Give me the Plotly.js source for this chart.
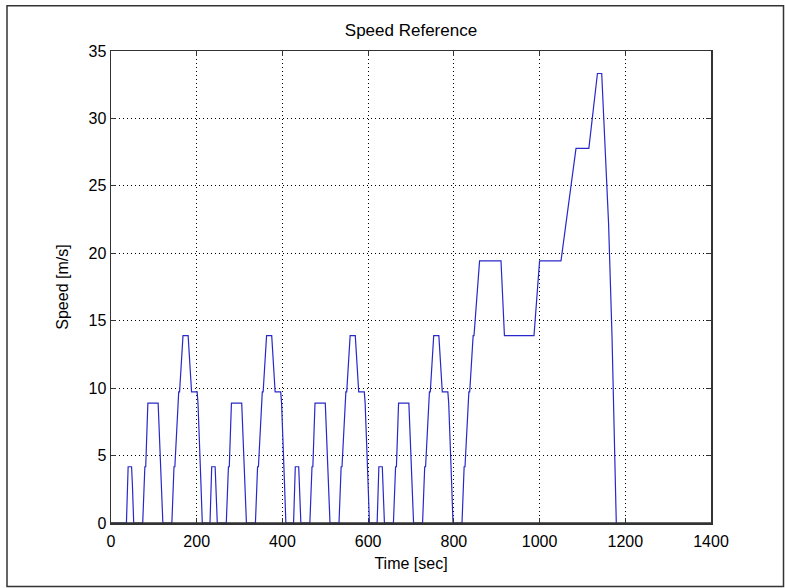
<!DOCTYPE html>
<html>
<head>
<meta charset="utf-8">
<script src="https://cdn.plot.ly/plotly-3.0.1.min.js"></script>
<style>
  html, body { margin: 0; padding: 0; background: #ffffff; }
  #chart { width: 785px; height: 588px; }
</style>
</head>
<body>
<div id="chart"></div>
<script>
// Speed profile of the driving cycle: four urban sections followed by one extra-urban section.
// Speeds are in m/s, times in seconds.

var startTime = [0];
var startSpeed = [0];

// Breakpoint speeds shared by every urban section
var urbanSpeed = [0, 4.17, 4.17, 2.78, 0, 0, 4.17, 4.17, 8.89, 8.89, 2.78, 0,
                  0, 4.17, 4.17, 9.72, 9.72, 13.89, 13.89, 9.72, 9.72, 8.89, 2.78, 0];

var urbanTime1 = [36, 40, 48, 50, 53, 74, 79, 81, 86, 110, 118, 121,
                  142, 147, 149, 158, 160, 168, 180, 188, 201, 203, 210, 213];
var urbanTime2 = [231, 235, 243, 245, 248, 269, 274, 276, 281, 305, 313, 316,
                  337, 342, 344, 353, 355, 363, 375, 383, 396, 398, 405, 408];
var urbanTime3 = [426, 430, 438, 440, 443, 464, 469, 471, 476, 500, 508, 511,
                  532, 537, 539, 548, 550, 558, 570, 578, 591, 593, 600, 603];
var urbanTime4 = [621, 625, 633, 635, 638, 659, 664, 666, 671, 695, 703, 706,
                  727, 732, 734, 743, 745, 753, 765, 773, 786, 788, 795, 798];

var extraUrbanTime  = [819, 824, 826, 835, 837, 845, 847, 860, 910, 918, 987,
                       1000, 1050, 1085, 1115, 1135, 1145, 1161, 1169, 1179];
var extraUrbanSpeed = [0, 4.17, 4.17, 9.72, 9.72, 13.89, 13.89, 19.44, 19.44, 13.89, 13.89,
                       19.44, 19.44, 27.78, 27.78, 33.33, 33.33, 22.22, 13.89, 0];

var xTicks = [0, 200, 400, 600, 800, 1000, 1200, 1400];
var yTicks = [0, 5, 10, 15, 20, 25, 30, 35];

var t = [].concat(startTime, urbanTime1, urbanTime2, urbanTime3, urbanTime4, extraUrbanTime);
var v = [].concat(startSpeed, urbanSpeed, urbanSpeed, urbanSpeed, urbanSpeed, extraUrbanSpeed);

var font = { family: '"Liberation Sans", Arial, sans-serif', size: 16, color: '#000000' };

var axisCommon = {
  showline: true,
  linecolor: '#333333',
  linewidth: 1.5,
  mirror: 'ticks',
  ticks: 'inside',
  ticklen: 5,
  tickwidth: 1,
  tickcolor: '#333333',
  showgrid: true,
  gridcolor: '#000000',
  gridwidth: 1,
  griddash: '1px,3px',
  zeroline: false,
  layer: 'above traces',
  tickfont: font,
  fixedrange: true
};

var trace = {
  type: 'scatter',
  mode: 'lines',
  x: t,
  y: v,
  line: { color: 'rgb(40,40,200)', width: 1.2 },
  hoverinfo: 'x+y'
};

var layout = {
  width: 785,
  height: 588,
  margin: { l: 111, r: 74, t: 51, b: 65 },
  paper_bgcolor: '#ffffff',
  plot_bgcolor: '#ffffff',
  font: font,
  showlegend: false,
  title: {
    text: 'Speed Reference',
    font: { family: font.family, size: 17, color: '#000000' },
    x: 0.5, xref: 'paper', xanchor: 'center',
    y: 1 - 30 / 588, yref: 'container', yanchor: 'middle'
  },
  xaxis: Object.assign({}, axisCommon, {
    range: [0, 1400],
    tickvals: xTicks,
    ticktext: xTicks.map(String),
    ticklabelstandoff: 3,
    title: { text: 'Time [sec]', font: font, standoff: 9 }
  }),
  yaxis: Object.assign({}, axisCommon, {
    range: [0, 35],
    tickvals: yTicks,
    ticktext: yTicks.map(String),
    title: { text: 'Speed [m/s]', font: font, standoff: 16 }
  }),
  shapes: [
    {
      // bottom edge of the axes box, kept on top of the curve where it idles at zero
      type: 'line', xref: 'paper', yref: 'paper', layer: 'above',
      x0: 0, x1: 1, y0: 0, y1: 0,
      line: { color: '#333333', width: 1.5 }
    },
    {
      // frame around the whole figure
      type: 'rect', xref: 'paper', yref: 'paper', layer: 'above',
      x0: (7 - 111) / 600, x1: (783.5 - 111) / 600,
      y0: (523 - 586.5) / 472, y1: (523 - 5.7) / 472,
      line: { color: '#333333', width: 1.5 },
      fillcolor: 'rgba(0,0,0,0)'
    }
  ]
};

Plotly.newPlot('chart', [trace], layout, { displayModeBar: false, staticPlot: true });
</script>
</body>
</html>
